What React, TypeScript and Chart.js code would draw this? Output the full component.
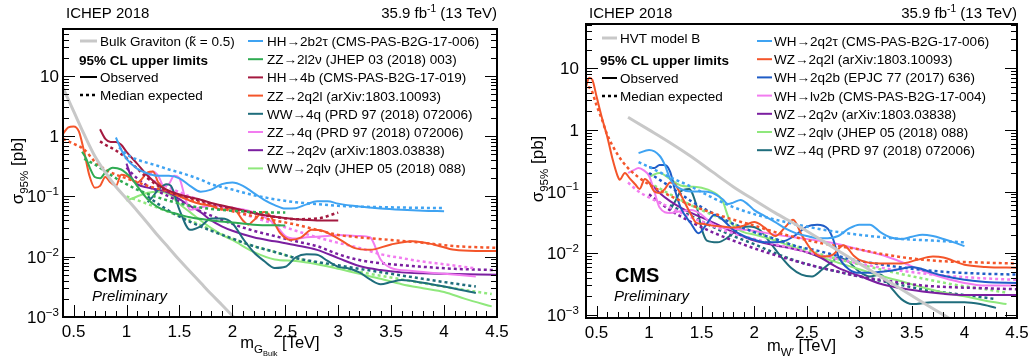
import React, { useEffect, useRef } from 'react';
import { Chart, registerables } from 'chart.js';
Chart.register(...registerables);

const FONT = '"Liberation Sans", Arial, Helvetica, sans-serif';
type P = [number, number][];

// ---------------- Left panel: Bulk graviton ----------------
const GRAV_BULK: P = [[0.4,6.3],[0.5,2.6],[0.6,1.07],[0.7,0.47],[0.8,0.25],[0.9,0.145],[1.0,0.092],[1.1,0.058],[1.2,0.036],[1.3,0.022],[1.4,0.014],[1.5,0.0088],[1.6,0.0057],[1.7,0.0037],[1.8,0.0024],[1.9,0.0016],[2.0,0.00105],[2.1,0.0007]];

const HH_2B2TAU_OBS: P = [[0.9,0.95],[0.95,0.6],[1.0,0.42],[1.1,0.29],[1.2,0.24],[1.3,0.22],[1.4,0.22],[1.5,0.2],[1.6,0.15],[1.7,0.12],[1.8,0.13],[1.9,0.16],[2.0,0.17],[2.1,0.15],[2.2,0.115],[2.3,0.088],[2.4,0.072],[2.5,0.063],[2.6,0.064],[2.7,0.074],[2.8,0.083],[2.9,0.083],[3.0,0.076],[3.2,0.068],[3.4,0.063],[3.6,0.06],[3.8,0.058],[4.0,0.057]];
const HH_2B2TAU_EXP: P = [[0.93,0.65],[1.0,0.5],[1.1,0.41],[1.2,0.36],[1.3,0.32],[1.4,0.28],[1.5,0.25],[1.6,0.22],[1.7,0.19],[1.8,0.16],[2.0,0.13],[2.2,0.105],[2.4,0.09],[2.6,0.08],[2.8,0.075],[3.0,0.07],[3.5,0.066],[4.0,0.064]];

const ZZ_2L2NU_OBS: P = [[0.58,0.55],[0.62,0.42],[0.66,0.28],[0.7,0.21],[0.75,0.2],[0.8,0.25],[0.87,0.3],[0.95,0.28],[1.0,0.24],[1.05,0.2],[1.1,0.15],[1.2,0.09],[1.3,0.066],[1.4,0.056],[1.5,0.05],[1.6,0.045],[1.8,0.04],[2.0,0.037],[2.2,0.034],[2.5,0.033]];
const ZZ_2L2NU_EXP: P = [[0.6,0.42],[0.7,0.34],[0.8,0.26],[0.9,0.2],[1.0,0.16],[1.1,0.13],[1.2,0.11],[1.4,0.085],[1.6,0.07],[1.8,0.062],[2.0,0.058],[2.2,0.055],[2.5,0.054]];

const HH_4B_OBS: P = [[0.75,1.3],[0.8,0.9],[0.85,0.8],[0.9,0.8],[0.95,0.72],[1.0,0.55],[1.1,0.35],[1.2,0.22],[1.3,0.155],[1.4,0.125],[1.5,0.108],[1.6,0.097],[1.7,0.088],[1.8,0.078],[2.0,0.065],[2.2,0.053],[2.4,0.046],[2.6,0.042],[2.8,0.04],[3.0,0.04]];
const HH_4B_EXP: P = [[0.75,0.82],[0.8,0.72],[0.9,0.58],[1.0,0.43],[1.1,0.29],[1.2,0.2],[1.3,0.15],[1.4,0.12],[1.6,0.095],[1.8,0.076],[2.0,0.063],[2.2,0.053],[2.4,0.046],[2.6,0.042],[2.8,0.043],[3.0,0.054]];

const ZZ_2Q2L_OBS: P = [[0.4,1.1],[0.45,1.4],[0.5,1.45],[0.55,1.2],[0.6,0.55],[0.65,0.22],[0.7,0.14],[0.75,0.15],[0.8,0.21],[0.85,0.17],[0.9,0.15],[0.95,0.23],[1.0,0.22],[1.1,0.17],[1.2,0.25],[1.25,0.26],[1.3,0.17],[1.4,0.12],[1.5,0.1],[1.6,0.085],[1.7,0.075],[1.8,0.07],[1.9,0.06],[2.0,0.065],[2.1,0.04],[2.15,0.034],[2.2,0.04],[2.3,0.055],[2.35,0.05],[2.45,0.025],[2.55,0.019],[2.65,0.021],[2.75,0.028],[2.85,0.027],[3.0,0.02],[3.15,0.014],[3.3,0.013],[3.5,0.016],[3.7,0.018],[3.9,0.016],[4.1,0.013],[4.3,0.0125],[4.5,0.0125]];
const ZZ_2Q2L_EXP: P = [[0.4,0.9],[0.5,0.75],[0.6,0.6],[0.7,0.38],[0.8,0.28],[0.9,0.23],[1.0,0.2],[1.2,0.15],[1.4,0.12],[1.6,0.09],[1.8,0.07],[2.0,0.057],[2.2,0.047],[2.4,0.04],[2.6,0.034],[2.8,0.028],[3.0,0.023],[3.2,0.021],[3.5,0.019],[3.8,0.017],[4.1,0.015],[4.5,0.014]];

const WW_4Q_OBS: P = [[1.2,0.08],[1.25,0.1],[1.3,0.13],[1.38,0.16],[1.42,0.15],[1.5,0.06],[1.6,0.028],[1.7,0.032],[1.8,0.043],[1.9,0.043],[2.0,0.036],[2.1,0.02],[2.2,0.012],[2.3,0.0085],[2.4,0.0065],[2.5,0.0068],[2.6,0.0098],[2.7,0.011],[2.8,0.0108],[2.9,0.0085],[3.0,0.0068],[3.1,0.0064],[3.2,0.0055],[3.3,0.0042],[3.4,0.0035],[3.5,0.0038],[3.6,0.0041],[3.8,0.0037],[4.0,0.0032],[4.3,0.0025]];
const WW_4Q_EXP: P = [[1.2,0.1],[1.3,0.075],[1.4,0.058],[1.6,0.038],[1.8,0.027],[2.0,0.02],[2.2,0.015],[2.4,0.012],[2.6,0.0095],[2.8,0.0082],[3.0,0.0072],[3.2,0.0063],[3.5,0.0052],[3.8,0.0043],[4.0,0.0038],[4.3,0.0032]];

const ZZ_4Q_OBS: P = [[1.2,0.2],[1.25,0.26],[1.3,0.22],[1.35,0.15],[1.4,0.16],[1.45,0.22],[1.5,0.2],[1.55,0.1],[1.6,0.06],[1.7,0.066],[1.8,0.07],[1.9,0.068],[2.0,0.065],[2.2,0.055],[2.4,0.035],[2.5,0.022],[2.6,0.02],[2.7,0.021],[2.9,0.022],[3.0,0.023],[3.2,0.022],[3.3,0.021],[3.4,0.009],[3.5,0.0065],[3.7,0.0058],[4.0,0.0052],[4.3,0.0047]];
const ZZ_4Q_EXP: P = [[1.2,0.2],[1.4,0.14],[1.6,0.1],[1.8,0.075],[2.0,0.058],[2.2,0.045],[2.4,0.035],[2.6,0.027],[2.8,0.021],[3.0,0.017],[3.2,0.014],[3.4,0.011],[3.6,0.0095],[3.8,0.0083],[4.0,0.0075],[4.3,0.0064]];

const ZZ_2Q2NU_OBS: P = [[1.0,0.35],[1.05,0.2],[1.1,0.16],[1.2,0.14],[1.3,0.13],[1.4,0.115],[1.5,0.09],[1.6,0.07],[1.7,0.055],[1.8,0.04],[1.9,0.032],[2.0,0.027],[2.2,0.021],[2.4,0.018],[2.6,0.0155],[2.8,0.013],[3.0,0.0095],[3.2,0.007],[3.4,0.006],[3.6,0.0055],[3.8,0.0053],[4.0,0.0052],[4.5,0.005]];
const ZZ_2Q2NU_EXP: P = [[1.0,0.3],[1.1,0.2],[1.2,0.15],[1.4,0.1],[1.6,0.068],[1.8,0.048],[2.0,0.035],[2.2,0.027],[2.4,0.022],[2.6,0.018],[2.8,0.015],[3.0,0.011],[3.2,0.0088],[3.5,0.0075],[3.8,0.0068],[4.1,0.0063],[4.5,0.006]];

const WW_2QLNU_OBS: P = [[1.0,0.085],[1.1,0.1],[1.2,0.115],[1.3,0.12],[1.4,0.11],[1.5,0.075],[1.6,0.055],[1.7,0.04],[1.8,0.03],[1.9,0.023],[2.0,0.019],[2.2,0.012],[2.4,0.009],[2.6,0.0085],[2.8,0.0075],[3.0,0.0063],[3.2,0.0052],[3.4,0.0043],[3.6,0.0035],[3.8,0.003],[4.0,0.0026],[4.2,0.002],[4.45,0.0015]];
const WW_2QLNU_EXP: P = [[1.0,0.1],[1.2,0.075],[1.4,0.055],[1.6,0.04],[1.8,0.028],[2.0,0.02],[2.2,0.015],[2.4,0.012],[2.6,0.0095],[2.8,0.0078],[3.0,0.0065],[3.3,0.0052],[3.6,0.0042],[3.9,0.0034],[4.2,0.0028],[4.45,0.0024]];

// ---------------- Right panel: HVT W' ----------------
const HVT_B: P = [[0.8,1.6],[1.0,1.0],[1.2,0.62],[1.4,0.37],[1.6,0.21],[1.8,0.12],[2.0,0.073],[2.2,0.045],[2.4,0.029],[2.6,0.018],[2.8,0.011],[3.0,0.0068],[3.2,0.0042],[3.4,0.0026],[3.6,0.0016],[3.8,0.001],[4.0,0.00062]];

const WH_2Q2TAU_OBS: P = [[0.9,0.42],[1.0,0.47],[1.1,0.38],[1.15,0.27],[1.2,0.16],[1.3,0.11],[1.4,0.1],[1.5,0.1],[1.6,0.095],[1.7,0.075],[1.75,0.063],[1.8,0.066],[1.87,0.073],[1.95,0.06],[2.0,0.05],[2.1,0.04],[2.2,0.032],[2.3,0.025],[2.4,0.021],[2.5,0.019],[2.6,0.0175],[2.7,0.0175],[2.8,0.019],[2.9,0.025],[3.0,0.029],[3.1,0.029],[3.2,0.022],[3.3,0.018],[3.4,0.017],[3.5,0.0185],[3.6,0.02],[3.7,0.019],[3.8,0.017],[3.9,0.015],[4.0,0.013]];
const WH_2Q2TAU_EXP: P = [[0.9,0.3],[1.0,0.25],[1.2,0.17],[1.4,0.12],[1.6,0.08],[1.8,0.056],[2.0,0.043],[2.2,0.035],[2.5,0.027],[2.8,0.022],[3.1,0.019],[3.4,0.017],[3.7,0.016],[4.0,0.015]];

const WZ_2Q2L_OBS: P = [[0.4,5],[0.43,7],[0.46,6.5],[0.5,3.5],[0.55,1.6],[0.6,0.8],[0.65,0.35],[0.7,0.18],[0.72,0.155],[0.77,0.2],[0.82,0.16],[0.87,0.13],[0.91,0.11],[0.96,0.16],[1.0,0.14],[1.05,0.1],[1.1,0.095],[1.15,0.11],[1.2,0.14],[1.25,0.13],[1.3,0.09],[1.4,0.042],[1.45,0.031],[1.5,0.03],[1.6,0.028],[1.7,0.027],[1.8,0.026],[1.9,0.028],[2.0,0.032],[2.1,0.026],[2.2,0.019],[2.3,0.027],[2.37,0.035],[2.45,0.02],[2.55,0.011],[2.65,0.0088],[2.75,0.0095],[2.85,0.0135],[2.95,0.009],[3.0,0.0078],[3.2,0.0068],[3.4,0.0068],[3.55,0.0078],[3.7,0.0088],[3.8,0.0085],[4.0,0.0065],[4.2,0.006],[4.5,0.0058]];
const WZ_2Q2L_EXP: P = [[0.42,5],[0.45,4.5],[0.5,2.5],[0.55,1.5],[0.6,0.85],[0.7,0.4],[0.8,0.24],[0.9,0.17],[1.0,0.13],[1.2,0.085],[1.4,0.06],[1.6,0.045],[1.8,0.035],[2.0,0.028],[2.2,0.022],[2.4,0.018],[2.6,0.015],[2.8,0.013],[3.0,0.0115],[3.2,0.0098],[3.5,0.0082],[3.8,0.0074],[4.1,0.0071],[4.5,0.0068]];

const WH_2Q2B_OBS: P = [[1.0,0.25],[1.05,0.24],[1.1,0.27],[1.15,0.27],[1.2,0.21],[1.25,0.1],[1.3,0.055],[1.4,0.03],[1.47,0.021],[1.55,0.03],[1.62,0.042],[1.7,0.035],[1.8,0.024],[1.9,0.019],[2.0,0.0165],[2.1,0.015],[2.2,0.015],[2.3,0.016],[2.4,0.02],[2.5,0.027],[2.6,0.029],[2.7,0.025],[2.75,0.017],[2.8,0.009],[2.9,0.0055],[3.0,0.0048],[3.1,0.0048],[3.2,0.005],[3.3,0.0052],[3.4,0.0056],[3.5,0.006],[3.6,0.0055],[3.7,0.0048],[3.8,0.0043],[4.0,0.0037],[4.2,0.0034],[4.5,0.0033]];
const WH_2Q2B_EXP: P = [[1.0,0.2],[1.2,0.12],[1.4,0.07],[1.6,0.045],[1.8,0.03],[2.0,0.022],[2.2,0.017],[2.4,0.013],[2.6,0.011],[2.8,0.009],[3.0,0.0075],[3.2,0.0066],[3.5,0.0056],[3.8,0.005],[4.1,0.0047],[4.5,0.0045]];

const WH_LNU2B_OBS: P = [[0.8,0.2],[0.85,0.22],[0.9,0.24],[0.95,0.22],[1.0,0.18],[1.05,0.1],[1.1,0.055],[1.2,0.045],[1.3,0.048],[1.4,0.05],[1.5,0.042],[1.6,0.03],[1.7,0.026],[1.8,0.025],[2.0,0.023],[2.2,0.02],[2.4,0.018],[2.6,0.016],[2.8,0.014],[3.0,0.0115],[3.2,0.0095],[3.4,0.0072],[3.6,0.0052],[3.8,0.004],[4.0,0.0033],[4.2,0.003],[4.5,0.003]];
const WH_LNU2B_EXP: P = [[0.8,0.14],[0.9,0.1],[1.0,0.08],[1.2,0.055],[1.4,0.038],[1.6,0.028],[1.8,0.021],[2.0,0.017],[2.2,0.014],[2.4,0.0115],[2.6,0.0095],[2.8,0.008],[3.0,0.0068],[3.3,0.0055],[3.6,0.0047],[3.9,0.0042],[4.2,0.0039],[4.5,0.0037]];

const WZ_2Q2NU_OBS: P = [[1.0,0.14],[1.1,0.095],[1.2,0.07],[1.3,0.055],[1.4,0.045],[1.5,0.038],[1.6,0.032],[1.8,0.022],[2.0,0.016],[2.2,0.0135],[2.4,0.0115],[2.6,0.009],[2.8,0.0058],[3.0,0.0043],[3.2,0.0032],[3.4,0.0027],[3.6,0.0024],[3.8,0.0022],[4.0,0.0021],[4.5,0.0021]];
const WZ_2Q2NU_EXP: P = [[1.0,0.09],[1.2,0.05],[1.4,0.032],[1.6,0.022],[1.8,0.016],[2.0,0.012],[2.2,0.0093],[2.4,0.0074],[2.6,0.006],[2.8,0.005],[3.0,0.0042],[3.3,0.0035],[3.6,0.003],[3.9,0.0028],[4.2,0.0027],[4.5,0.0026]];

const WZ_2QLNU_OBS: P = [[1.0,0.17],[1.05,0.19],[1.1,0.2],[1.2,0.16],[1.3,0.125],[1.4,0.12],[1.5,0.115],[1.6,0.1],[1.7,0.07],[1.75,0.04],[1.8,0.028],[1.9,0.022],[2.0,0.02],[2.2,0.016],[2.4,0.012],[2.6,0.009],[2.8,0.007],[3.0,0.0055],[3.2,0.0043],[3.4,0.0035],[3.6,0.0028],[3.8,0.0023],[4.0,0.002],[4.2,0.0017],[4.4,0.0015]];
const WZ_2QLNU_EXP: P = [[1.0,0.14],[1.2,0.09],[1.4,0.06],[1.6,0.042],[1.8,0.03],[2.0,0.022],[2.2,0.017],[2.4,0.013],[2.6,0.01],[2.8,0.008],[3.0,0.0066],[3.3,0.005],[3.6,0.0039],[3.9,0.0031],[4.2,0.0026],[4.4,0.0023]];

const WZ_4Q_OBS: P = [[1.2,0.05],[1.25,0.07],[1.3,0.1],[1.38,0.11],[1.45,0.06],[1.5,0.025],[1.55,0.016],[1.65,0.015],[1.75,0.018],[1.85,0.025],[1.95,0.027],[2.05,0.024],[2.15,0.015],[2.25,0.009],[2.35,0.0058],[2.45,0.0045],[2.55,0.0042],[2.65,0.0055],[2.75,0.0075],[2.8,0.0085],[2.9,0.0072],[3.0,0.005],[3.1,0.0042],[3.2,0.0045],[3.3,0.0028],[3.4,0.0018],[3.5,0.0015],[3.7,0.0016],[3.9,0.0016],[4.0,0.0016],[4.15,0.0015],[4.3,0.0013]];
const WZ_4Q_EXP: P = [[1.2,0.06],[1.4,0.04],[1.6,0.027],[1.8,0.019],[2.0,0.014],[2.2,0.01],[2.4,0.0075],[2.6,0.006],[2.8,0.005],[3.0,0.0042],[3.3,0.0033],[3.6,0.0026],[3.9,0.0022],[4.1,0.002],[4.3,0.0018]];

// ---------------- ticks ----------------
const X_TICKS = [0.5, 1, 1.5, 2, 2.5, 3, 3.5, 4, 4.5];
const X_TICK_LABELS = ['0.5', '1', '1.5', '2', '2.5', '3', '3.5', '4', '4.5'];
const Y_TICKS = [0.001, 0.01, 0.1, 1, 10];
const Y_TICK_EXP = ['−3', '−2', '−1', '', ''];
const Y_TICK_BASE = ['10', '10', '10', '1', '10'];

// colours
const C_LBLUE = '#3fa3f2';
const C_GREEN = '#2fab52';
const C_MAROON = '#a4193f';
const C_ORANGE = '#f4552a';
const C_TEAL = '#1f6d7c';
const C_PINK = '#f27cf0';
const C_PURPLE = '#7b1fa0';
const C_LGREEN = '#8fe87c';
const C_DBLUE = '#1f5cc6';
const C_GRAY = '#c8c8c8';

type Seg = { t: string; s?: number; dy?: number; w?: string; i?: boolean };
interface Series { label: string; color: string; obs: P; exp: P }
interface PanelCfg {
  width: number;
  left: number;
  pad: { left: number; right: number; top: number; bottom: number };
  yMin: number;
  yMax: number;
  theory: P;
  theoryLabel: Seg[];
  series: Series[];
  xTitle: Seg[];
  xTitleY: number;
  yTitleX: number;
  legL: { x0: number; x1: number; tx: number; bx: number; rows: number[] };
  legR: { x0: number; x1: number; tx: number; y0: number; dy: number };
  cms: { x: number; y: number };
  yLabelGap: number;
}

const LEFT_SERIES: Series[] = [
  { label: 'HH→2b2τ (CMS-PAS-B2G-17-006)', color: C_LBLUE, obs: HH_2B2TAU_OBS, exp: HH_2B2TAU_EXP },
  { label: 'ZZ→2l2ν (JHEP 03 (2018) 003)', color: C_GREEN, obs: ZZ_2L2NU_OBS, exp: ZZ_2L2NU_EXP },
  { label: 'HH→4b (CMS-PAS-B2G-17-019)', color: C_MAROON, obs: HH_4B_OBS, exp: HH_4B_EXP },
  { label: 'ZZ→2q2l (arXiv:1803.10093)', color: C_ORANGE, obs: ZZ_2Q2L_OBS, exp: ZZ_2Q2L_EXP },
  { label: 'WW→4q (PRD 97 (2018) 072006)', color: C_TEAL, obs: WW_4Q_OBS, exp: WW_4Q_EXP },
  { label: 'ZZ→4q (PRD 97 (2018) 072006)', color: C_PINK, obs: ZZ_4Q_OBS, exp: ZZ_4Q_EXP },
  { label: 'ZZ→2q2ν (arXiv:1803.03838)', color: C_PURPLE, obs: ZZ_2Q2NU_OBS, exp: ZZ_2Q2NU_EXP },
  { label: 'WW→2qlν (JHEP 05 (2018) 088)', color: C_LGREEN, obs: WW_2QLNU_OBS, exp: WW_2QLNU_EXP },
];

const RIGHT_SERIES: Series[] = [
  { label: 'WH→2q2τ (CMS-PAS-B2G-17-006)', color: C_LBLUE, obs: WH_2Q2TAU_OBS, exp: WH_2Q2TAU_EXP },
  { label: 'WZ→2q2l (arXiv:1803.10093)', color: C_ORANGE, obs: WZ_2Q2L_OBS, exp: WZ_2Q2L_EXP },
  { label: 'WH→2q2b (EPJC 77 (2017) 636)', color: C_DBLUE, obs: WH_2Q2B_OBS, exp: WH_2Q2B_EXP },
  { label: 'WH→lν2b (CMS-PAS-B2G-17-004)', color: C_PINK, obs: WH_LNU2B_OBS, exp: WH_LNU2B_EXP },
  { label: 'WZ→2q2ν (arXiv:1803.03838)', color: C_PURPLE, obs: WZ_2Q2NU_OBS, exp: WZ_2Q2NU_EXP },
  { label: 'WZ→2qlν (JHEP 05 (2018) 088)', color: C_LGREEN, obs: WZ_2QLNU_OBS, exp: WZ_2QLNU_EXP },
  { label: 'WZ→4q (PRD 97 (2018) 072006)', color: C_TEAL, obs: WZ_4Q_OBS, exp: WZ_4Q_EXP },
];

const LEFT_CFG: PanelCfg = {
  width: 515,
  left: 0,
  pad: { left: 63, right: 18, top: 29, bottom: 43 },
  yMin: 0.001,
  yMax: 60,
  theory: GRAV_BULK,
  theoryLabel: [{ t: 'Bulk Graviton (k̃ = 0.5)' }],
  series: LEFT_SERIES,
  xTitle: [{ t: 'm' }, { t: 'G', s: 0.7, dy: 0.28 }, { t: 'Bulk', s: 0.45, dy: 0.5 }, { t: ' [TeV]' }],
  xTitleY: 348,
  yTitleX: 23,
  legL: { x0: 80, x1: 97, tx: 100, bx: 79, rows: [41, 60, 77, 95] },
  legR: { x0: 248, x1: 263, tx: 267, y0: 41, dy: 18.2 },
  cms: { x: 93, y: 282 },
  yLabelGap: 4,
};

const RIGHT_CFG: PanelCfg = {
  width: 516,
  left: 515,
  pad: { left: 71, right: 14, top: 24, bottom: 42 },
  yMin: 0.00089,
  yMax: 52,
  theory: HVT_B,
  theoryLabel: [{ t: 'HVT model B' }],
  series: RIGHT_SERIES,
  xTitle: [{ t: 'm' }, { t: 'W′', s: 0.7, dy: 0.28 }, { t: ' [TeV]' }],
  xTitleY: 351,
  yTitleX: 28,
  legL: { x0: 87, x1: 102, tx: 105, bx: 85, rows: [38, 60, 78, 96] },
  legR: { x0: 242, x1: 257, tx: 259, y0: 41, dy: 18.2 },
  cms: { x: 100, y: 282 },
  yLabelGap: 7,
};

function fontOf(g: Seg, size: number) {
  return `${g.i ? 'italic ' : ''}${g.w || ''} ${size * (g.s || 1)}px ${FONT}`;
}

function drawRich(ctx: CanvasRenderingContext2D, segs: Seg[], x: number, y: number, size: number, align: 'left' | 'right' | 'center') {
  let total = 0;
  const widths: number[] = [];
  for (const g of segs) {
    ctx.font = fontOf(g, size);
    const w = ctx.measureText(g.t).width;
    widths.push(w);
    total += w;
  }
  let cx = align === 'left' ? x : align === 'right' ? x - total : x - total / 2;
  ctx.textAlign = 'left';
  ctx.textBaseline = 'alphabetic';
  segs.forEach((g, k) => {
    ctx.font = fontOf(g, size);
    ctx.fillText(g.t, cx, y + (g.dy || 0) * size);
    cx += widths[k];
  });
}

function drawDecor(chart: any, cfg: PanelCfg) {
  const ctx: CanvasRenderingContext2D = chart.ctx;
  const { left, right, top, bottom } = chart.chartArea;
  const xs = chart.scales.x;
  const ys = chart.scales.y;
  ctx.save();
  ctx.fillStyle = '#000';
  ctx.strokeStyle = '#000';

  // ticks
  ctx.lineWidth = 1;
  ctx.beginPath();
  for (let i = 4; i <= 45; i++) {
    const v = i / 10;
    const px = Math.round(xs.getPixelForValue(v)) + 0.5;
    const len = i % 5 === 0 ? 12 : 6;
    ctx.moveTo(px, bottom);
    ctx.lineTo(px, bottom - len);
  }
  for (let e = -4; e <= 2; e++) {
    for (let m = 1; m <= 9; m++) {
      const v = m * Math.pow(10, e);
      if (v < cfg.yMin || v > cfg.yMax) continue;
      const py = Math.round(ys.getPixelForValue(v)) + 0.5;
      const len = m === 1 ? 12 : 6;
      ctx.moveTo(left, py);
      ctx.lineTo(left + len, py);
      ctx.moveTo(right, py);
      ctx.lineTo(right - len, py);
    }
  }
  ctx.stroke();

  // frame
  ctx.lineWidth = 2;
  ctx.strokeRect(left, top, right - left, bottom - top);

  // x tick labels
  X_TICKS.forEach((v, k) => {
    drawRich(ctx, [{ t: X_TICK_LABELS[k] }], xs.getPixelForValue(v), bottom + 20, 17, 'center');
  });
  // y tick labels
  Y_TICKS.forEach((v, k) => {
    const py = ys.getPixelForValue(v);
    const segs: Seg[] = [{ t: Y_TICK_BASE[k] }];
    if (Y_TICK_EXP[k]) segs.push({ t: Y_TICK_EXP[k], s: 0.68, dy: -0.42 });
    drawRich(ctx, segs, left - cfg.yLabelGap, py + 6, 17, 'right');
  });

  // header
  drawRich(ctx, [{ t: 'ICHEP 2018' }], left + 3, 18, 15, 'left');
  drawRich(ctx, [{ t: '35.9 fb' }, { t: '-1', s: 0.68, dy: -0.42 }, { t: ' (13 TeV)' }], right, 18, 15, 'right');

  // axis titles
  drawRich(ctx, cfg.xTitle, (left + right) / 2, cfg.xTitleY, 16.5, 'center');
  ctx.save();
  ctx.translate(cfg.yTitleX, (top + bottom) / 2 - 2);
  ctx.rotate(-Math.PI / 2);
  drawRich(ctx, [{ t: 'σ' }, { t: '95%', s: 0.68, dy: 0.3 }, { t: ' [pb]' }], 0, 0, 17, 'center');
  ctx.restore();

  // CMS label
  drawRich(ctx, [{ t: 'CMS', w: 'bold' }], cfg.cms.x, cfg.cms.y, 20, 'left');
  drawRich(ctx, [{ t: 'Preliminary', i: true }], cfg.cms.x - 1, cfg.cms.y + 19, 15, 'left');

  // legend left column
  const L = cfg.legL;
  const LS = 13.5;
  ctx.lineCap = 'butt';
  ctx.strokeStyle = C_GRAY;
  ctx.lineWidth = 3;
  ctx.beginPath();
  ctx.moveTo(L.x0, L.rows[0]);
  ctx.lineTo(L.x1, L.rows[0]);
  ctx.stroke();
  drawRich(ctx, cfg.theoryLabel, L.tx, L.rows[0] + 5, LS, 'left');
  drawRich(ctx, [{ t: '95% CL upper limits', w: 'bold' }], L.bx, L.rows[1] + 5, LS, 'left');
  ctx.strokeStyle = '#000';
  ctx.lineWidth = 2;
  ctx.beginPath();
  ctx.moveTo(L.x0, L.rows[2]);
  ctx.lineTo(L.x1, L.rows[2]);
  ctx.stroke();
  drawRich(ctx, [{ t: 'Observed' }], L.tx, L.rows[2] + 5, LS, 'left');
  ctx.setLineDash([3, 3]);
  ctx.lineWidth = 2.5;
  ctx.beginPath();
  ctx.moveTo(L.x0, L.rows[3]);
  ctx.lineTo(L.x1, L.rows[3]);
  ctx.stroke();
  ctx.setLineDash([]);
  drawRich(ctx, [{ t: 'Median expected' }], L.tx, L.rows[3] + 5, LS, 'left');

  // legend right column
  const R = cfg.legR;
  cfg.series.forEach((s, k) => {
    const y = R.y0 + R.dy * k;
    ctx.strokeStyle = s.color;
    ctx.lineWidth = 2;
    ctx.beginPath();
    ctx.moveTo(R.x0, y);
    ctx.lineTo(R.x1, y);
    ctx.stroke();
    ctx.fillStyle = '#000';
    drawRich(ctx, [{ t: s.label }], R.tx, y + 5, LS, 'left');
  });
  ctx.restore();
}

function toXY(p: P) {
  return p.map(([x, y]) => ({ x, y }));
}

function buildChart(canvas: HTMLCanvasElement, cfg: PanelCfg) {
  const datasets: any[] = [
    {
      data: toXY(cfg.theory),
      borderColor: C_GRAY,
      borderWidth: 3,
      pointRadius: 0,
      cubicInterpolationMode: 'monotone',
    },
  ];
  cfg.series.forEach((s) => {
    datasets.push({
      data: toXY(s.exp),
      borderColor: s.color,
      borderWidth: 2.5,
      borderDash: [3, 3],
      pointRadius: 0,
      cubicInterpolationMode: 'monotone',
    });
    datasets.push({
      data: toXY(s.obs),
      borderColor: s.color,
      borderWidth: 2,
      pointRadius: 0,
      cubicInterpolationMode: 'monotone',
    });
  });
  return new Chart(canvas, {
    type: 'line',
    data: { datasets },
    options: {
      responsive: false,
      animation: false,
      devicePixelRatio: 1,
      events: [],
      layout: { padding: cfg.pad },
      plugins: { legend: { display: false }, tooltip: { enabled: false } },
      scales: {
        x: { type: 'linear', min: 0.4, max: 4.5, display: false },
        y: { type: 'logarithmic', min: cfg.yMin, max: cfg.yMax, display: false },
      },
    },
    plugins: [{ id: 'decor', afterDatasetsDraw: (chart: any) => drawDecor(chart, cfg) }],
  } as any);
}

function Panel({ cfg }: { cfg: PanelCfg }) {
  const ref = useRef<HTMLCanvasElement>(null);
  useEffect(() => {
    if (!ref.current) return;
    const chart = buildChart(ref.current, cfg);
    return () => chart.destroy();
  }, [cfg]);
  return (
    <canvas
      ref={ref}
      width={cfg.width}
      height={360}
      style={{ position: 'absolute', left: cfg.left, top: 0, width: cfg.width, height: 360 }}
    />
  );
}

export default function App() {
  return (
    <div style={{ position: 'fixed', left: 0, top: 0, width: 1031, height: 360, background: '#fff' }}>
      <Panel cfg={LEFT_CFG} />
      <Panel cfg={RIGHT_CFG} />
    </div>
  );
}
